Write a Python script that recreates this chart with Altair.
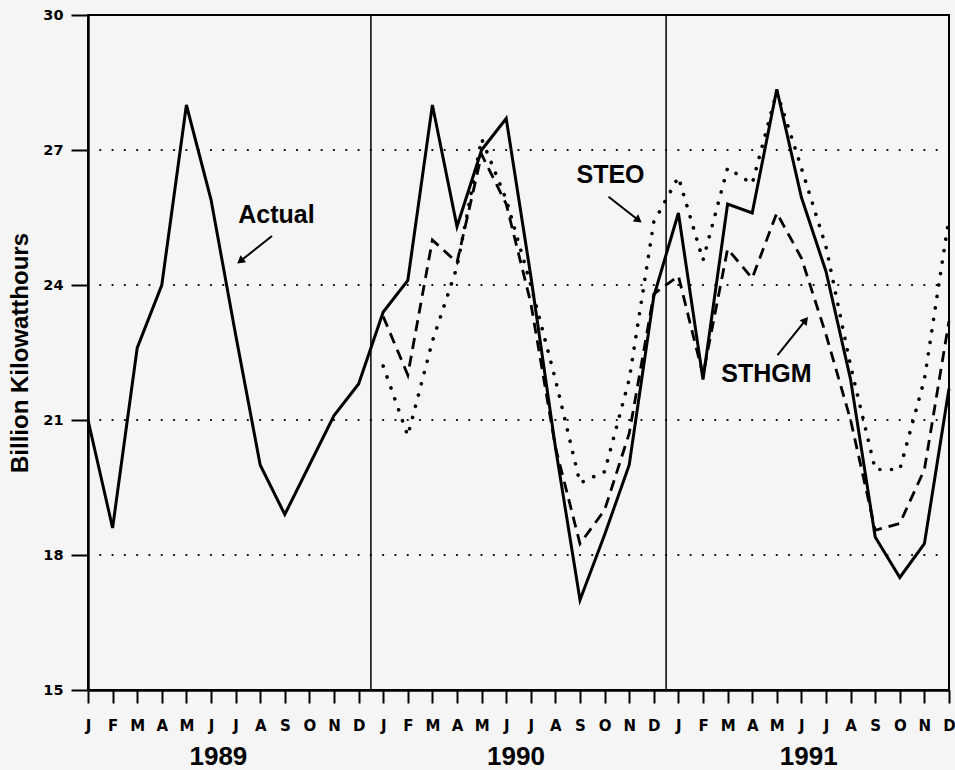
import altair as alt
import pandas as pd

# ---------------- data ----------------
month_letters = ["J", "F", "M", "A", "M", "J", "J", "A", "S", "O", "N", "D"]
years = ["1989", "1990", "1991"]
year_pos = [5.3, 17.4, 29.3]

# Actual: Jan 1989 - Dec 1991 (billion kWh)
actual = [21.0, 18.6, 22.6, 24.0, 28.0, 25.9, 22.9, 20.0, 18.9, 20.0, 21.1, 21.8,
          23.4, 24.1, 28.0, 25.3, 27.0, 27.7, 24.2, 20.4, 17.0, 18.45, 20.0, 23.75,
          25.6, 21.9, 25.8, 25.6, 28.35, 25.95, 24.3, 21.9, 18.4, 17.5, 18.25, 21.7]
# STHGM forecast: Jan 1990 - Dec 1991
sthgm = [23.3, 22.0, 25.0, 24.5, 26.9, 25.8, 23.6, 20.4, 18.25, 19.0, 20.7, 23.8,
         24.2, 22.0, 24.8, 24.15, 25.6, 24.6, 22.9, 21.0, 18.55, 18.7, 19.9, 23.2]
# STEO forecast: Jan 1990 - Dec 1991
steo = [22.2, 20.65, 22.75, 24.4, 27.25, 25.9, 24.0, 21.9, 19.6, 19.85, 21.9, 25.4,
        26.4, 24.55, 26.6, 26.25, 28.3, 26.6, 24.85, 22.2, 19.9, 19.9, 21.9, 25.5]

y_ticks = [15, 18, 21, 24, 27, 30]
grid_levels = [18, 21, 24, 27]
year_breaks = [11.5, 23.5]

labels = ["Actual", "STEO", "STHGM"]
label_x = [7.66, 21.24, 27.58]
label_y = [25.56, 26.44, 22.02]
arrow_x0 = [7.48, 21.16, 28.03]
arrow_y0 = [25.09, 25.96, 22.44]
arrow_x1 = [6.19, 22.38, 29.17]
arrow_y1 = [24.53, 25.44, 23.22]
arrow_angle = [231.7, 127.5, 38.7]

# ---------------- tables ----------------
df_actual = pd.DataFrame({"idx": list(range(len(actual))), "value": actual})
df_sthgm = pd.DataFrame({"idx": list(range(12, 12 + len(sthgm))), "value": sthgm})
df_steo = pd.DataFrame({"idx": list(range(12, 12 + len(steo))), "value": steo})
df_grid = pd.DataFrame({"level": grid_levels})
df_breaks = pd.DataFrame({"pos": year_breaks})
df_years = pd.DataFrame({"pos": year_pos, "year": years})
df_labels = pd.DataFrame({"x": label_x, "y": label_y, "text": labels})
df_arrows = pd.DataFrame({"x0": arrow_x0, "y0": arrow_y0, "x1": arrow_x1,
                          "y1": arrow_y1, "angle": arrow_angle})

FONT = "Liberation Sans"
TICKFONT = "DejaVu Sans"
xscale = alt.Scale(domain=[0, 35], nice=False, zero=False)
yscale = alt.Scale(domain=[15, 30], nice=False, zero=False)

month_expr = "[" + ",".join("'%s'" % m for m in month_letters) + "][datum.value % 12]"

x_axis = alt.Axis(values=list(range(36)), labelExpr=month_expr, title=None,
                  tickSize=13, labelFontSize=15, labelPadding=15)
y_axis = alt.Axis(values=y_ticks, title="Billion Kilowatthours",
                  tickSize=17, labelFontSize=14.5, labelPadding=8,
                  titleFontSize=24, titleAngle=270, titleAlign="center",
                  titleBaseline="middle", titleX=-68, titleY=337.5)


def X(field):
    return alt.X(field, scale=xscale, axis=x_axis)


def Y(field):
    return alt.Y(field, scale=yscale, axis=y_axis)


line_actual = alt.Chart(df_actual).mark_line(color="black", strokeWidth=3,
                                             strokeJoin="miter").encode(
    x=X("idx:Q"), y=Y("value:Q"))

grid = alt.Chart(df_grid).mark_rule(color="black", strokeWidth=2.2,
                                    strokeDash=[0.1, 12.2], strokeCap="round").encode(
    y=Y("level:Q"))

breaks = alt.Chart(df_breaks).mark_rule(color="black", strokeWidth=1.5).encode(
    x=X("pos:Q"))

line_sthgm = alt.Chart(df_sthgm).mark_line(color="black", strokeWidth=2.8,
                                           strokeDash=[11, 7]).encode(
    x=X("idx:Q"), y=Y("value:Q"))

line_steo = alt.Chart(df_steo).mark_line(color="black", strokeWidth=3.6,
                                         strokeDash=[0.1, 11.5],
                                         strokeCap="round").encode(
    x=X("idx:Q"), y=Y("value:Q"))

year_text = alt.Chart(df_years).mark_text(font=FONT, fontWeight="bold",
                                          fontSize=26, color="black",
                                          baseline="alphabetic", align="center").encode(
    x=X("pos:Q"),
    y=alt.value(750),
    text="year:N")

label_text = alt.Chart(df_labels).mark_text(font=FONT, fontWeight="bold",
                                            fontSize=25, color="black",
                                            baseline="middle", align="center").encode(
    x=X("x:Q"), y=Y("y:Q"), text="text:N")

arrow_shaft = alt.Chart(df_arrows).mark_rule(color="black", strokeWidth=2).encode(
    x=X("x0:Q"), y=Y("y0:Q"), x2="x1:Q", y2="y1:Q")

arrow_head = alt.Chart(df_arrows).mark_point(shape="triangle-up", filled=True,
                                             size=80, color="black", opacity=1,
                                             strokeWidth=0).encode(
    x=X("x1:Q"), y=Y("y1:Q"),
    angle=alt.Angle("angle:Q", scale=None))

chart = alt.layer(
    line_actual, grid, breaks, line_steo, line_sthgm,
    year_text, label_text, arrow_shaft, arrow_head
).properties(
    width=861, height=675,
    autosize=alt.AutoSizeParams(type="none"),
    padding={"left": 88, "top": 15, "right": 6, "bottom": 80},
    background="#f5f5f5",
).configure_view(
    stroke="black", strokeWidth=2
).configure_axis(
    grid=False, domainColor="black", domainWidth=2.5,
    tickColor="black", tickWidth=2,
    labelFont=TICKFONT, labelFontWeight="bold", labelColor="black",
    labelFlush=False, labelOverlap=False,
    titleFont=FONT, titleFontWeight="bold", titleColor="black"
).configure_axisX(
    labelFontSize=15
).configure_axisY(
    labelFontSize=14.5, titleFontSize=24
)

chart.save("out.html", embed_options={"renderer": "svg", "actions": False})
